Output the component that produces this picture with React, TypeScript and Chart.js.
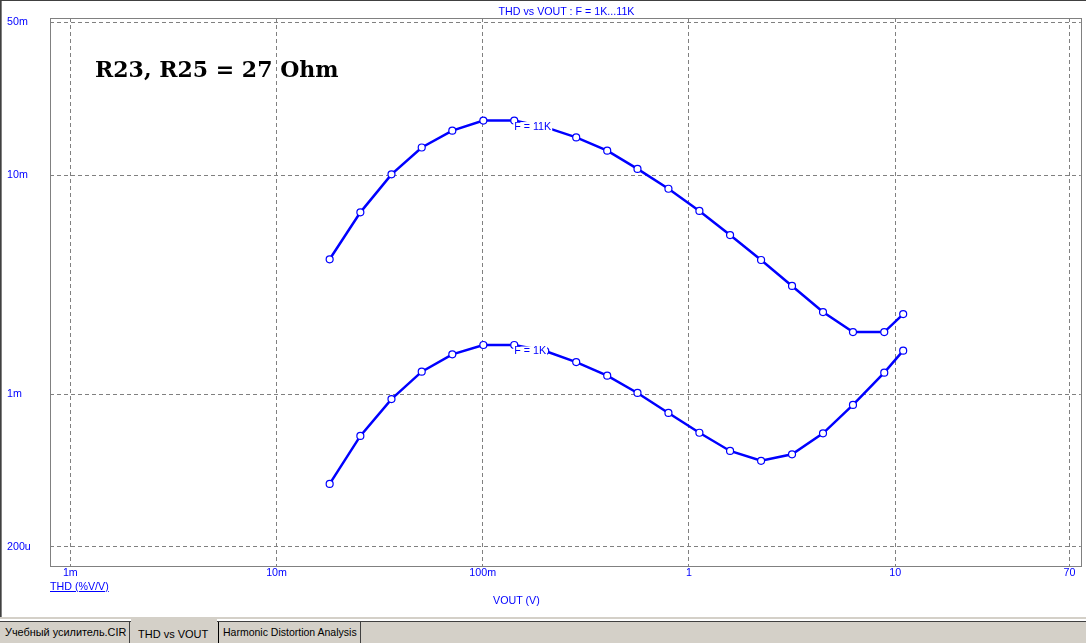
import React, { useEffect, useRef } from "react";
import { Chart, registerables } from "chart.js";

Chart.register(...registerables);

// VOUT (V) sweep points
const vout = [0.0181, 0.0255, 0.0361, 0.0506, 0.0712, 0.1007, 0.1422, 0.201, 0.284, 0.4015, 0.563, 0.7955, 1.124, 1.583, 2.238, 3.162, 4.469, 6.245, 8.856, 10.94];
// THD (%V/V) for F = 11K
const thd11k = [0.00413, 0.00677, 0.0101, 0.0134, 0.016, 0.0178, 0.0178, 0.0166, 0.0149, 0.01296, 0.0107, 0.00868, 0.00687, 0.00533, 0.0041, 0.00312, 0.00237, 0.00192, 0.00192, 0.00232];
// THD (%V/V) for F = 1K
const thd1k = [0.000388, 0.000643, 0.000948, 0.001265, 0.001519, 0.001675, 0.001675, 0.001573, 0.0014, 0.001213, 0.001011, 0.000819, 0.000665, 0.000549, 0.000495, 0.00053, 0.000661, 0.000891, 0.001252, 0.001578];

const seriesNames = ["F = 11K", "F = 1K"];
const xTickValues = [0.001, 0.01, 0.1, 1, 10, 70];
const xTickLabels = ["1m", "10m", "100m", "1", "10", "70"];
const yTickValues = [0.0002, 0.001, 0.01, 0.05];
const yTickLabels = ["200u", "1m", "10m", "50m"];
const labelPointIndex = 6;

const BLUE = "#0000ff";
const FONT = '"Liberation Sans", Arial, sans-serif';

export default function App() {
  const ref = useRef<HTMLCanvasElement>(null);

  useEffect(() => {
    const canvas = ref.current;
    if (!canvas) return;

    const curveLabels = {
      id: "curveLabels",
      afterDatasetsDraw(chart: any) {
        const c = chart.ctx;
        chart.data.datasets.forEach((ds: any, di: number) => {
          const pt = chart.getDatasetMeta(di).data[labelPointIndex];
          if (!pt) return;
          c.save();
          c.font = `10.7px ${FONT}`;
          const text = ds.label as string;
          const w = c.measureText(text).width;
          const x = pt.x;
          const y = pt.y + 6.5;
          c.fillStyle = "#ffffff";
          c.fillRect(x - 1, pt.y + 1.5, w + 2, 11);
          c.fillStyle = BLUE;
          c.textBaseline = "middle";
          c.textAlign = "left";
          c.fillText(text, x, y);
          c.restore();
        });
      },
    };

    const frame = {
      id: "frame",
      afterDraw(chart: any) {
        const { left, top, right, bottom } = chart.chartArea;
        const c = chart.ctx;
        c.save();
        c.strokeStyle = "#808080";
        c.lineWidth = 1;
        c.setLineDash([]);
        c.strokeRect(Math.round(left) + 0.5, Math.round(top) + 0.5, Math.round(right - left), Math.round(bottom - top));
        c.restore();
      },
    };

    const chart = new Chart(canvas, {
      type: "line",
      data: {
        datasets: [thd11k, thd1k].map((arr, i) => ({
          label: seriesNames[i],
          data: vout.map((x, j) => ({ x, y: arr[j] })),
          borderColor: BLUE,
          borderWidth: 2.5,
          pointRadius: 3.5,
          pointBackgroundColor: "#ffffff",
          pointBorderColor: BLUE,
          pointBorderWidth: 1.2,
          tension: 0,
          fill: false,
        })),
      },
      options: {
        responsive: false,
        animation: false,
        devicePixelRatio: 1,
        layout: { padding: { left: 7, top: 18, right: 3, bottom: 0 } },
        plugins: { legend: { display: false }, tooltip: { enabled: false }, title: { display: false } },
        scales: {
          x: {
            type: "logarithmic",
            bounds: "data",
            min: 0.000797,
            max: 79.5,
            afterBuildTicks: (s: any) => {
              s.ticks = xTickValues.map((v) => ({ value: v }));
            },
            afterFit: (s: any) => {
              s.height = 51;
            },
            ticks: {
              autoSkip: false,
              maxRotation: 0,
              padding: 1,
              color: BLUE,
              font: { family: FONT, size: 10.7 },
              callback: (v: any) => {
                const i = xTickValues.indexOf(Number(v));
                return i >= 0 ? xTickLabels[i] : "";
              },
            },
            grid: { color: "#808080", lineWidth: 1, drawTicks: false },
            border: { display: false, dash: [4, 3] },
          },
          y: {
            type: "logarithmic",
            bounds: "data",
            min: 0.0001635,
            max: 0.0524,
            afterBuildTicks: (s: any) => {
              s.ticks = yTickValues.map((v) => ({ value: v }));
            },
            afterFit: (s: any) => {
              s.width = 43;
            },
            ticks: {
              autoSkip: false,
              crossAlign: "far",
              padding: 0,
              color: BLUE,
              font: { family: FONT, size: 10.7 },
              callback: (v: any) => {
                const i = yTickValues.indexOf(Number(v));
                return i >= 0 ? yTickLabels[i] : "";
              },
            },
            grid: { color: "#808080", lineWidth: 1, drawTicks: false },
            border: { display: false, dash: [4, 3] },
          },
        },
      } as any,
      plugins: [curveLabels, frame],
    });
    return () => chart.destroy();
  }, []);

  const tabText: React.CSSProperties = {
    position: "absolute",
    fontFamily: FONT,
    fontSize: 10.5,
    lineHeight: "13px",
    color: "#000",
    whiteSpace: "nowrap",
  };

  return (
    <div style={{ position: "fixed", left: 0, top: 0, width: 1086, height: 643, background: "#fff", overflow: "hidden", fontFamily: FONT }}>
      <canvas ref={ref} width={1086} height={617} style={{ position: "absolute", left: 0, top: 0, width: 1086, height: 617 }} />
      {/* window frame */}
      <div style={{ position: "absolute", left: 0, top: 0, width: 1086, height: 1, background: "#404040" }} />
      <div style={{ position: "absolute", left: 0, top: 0, width: 1, height: 617, background: "#404040" }} />
      <div style={{ position: "absolute", left: 1, top: 1, width: 1, height: 616, background: "#808080" }} />
      {/* title */}
      <div style={{ position: "absolute", left: 416.5, top: 5, width: 300, textAlign: "center", fontSize: 10.7, lineHeight: "12px", color: BLUE, whiteSpace: "nowrap" }}>
        THD vs VOUT : F = 1K...11K
      </div>
      {/* annotation */}
      <div style={{ position: "absolute", left: 95, top: 58, fontFamily: '"DejaVu Serif", serif', fontWeight: "bold", fontSize: 22, lineHeight: "22px", color: "#000", whiteSpace: "nowrap" }}>
        R23, R25 = 27 Ohm
      </div>
      {/* axis titles */}
      <div style={{ position: "absolute", left: 50, top: 580, fontSize: 10.7, lineHeight: "13px", color: BLUE, textDecoration: "underline", whiteSpace: "nowrap" }}>
        THD (%V/V)
      </div>
      <div style={{ position: "absolute", left: 493, top: 593.5, fontSize: 10.7, lineHeight: "13px", color: BLUE, whiteSpace: "nowrap" }}>
        VOUT (V)
      </div>
      {/* tab bar */}
      <div style={{ position: "absolute", left: 0, top: 617, width: 1086, height: 2, background: "#d4d0c8" }} />
      <div style={{ position: "absolute", left: 0, top: 619, width: 1086, height: 2, background: "#ffffff" }} />
      <div style={{ position: "absolute", left: 0, top: 621, width: 1086, height: 1, background: "#404040" }} />
      <div style={{ position: "absolute", left: 0, top: 622, width: 1086, height: 21, background: "#d4d0c8" }} />
      {/* tab 1 */}
      <div style={{ position: "absolute", left: 0, top: 622, width: 129, height: 21, borderRight: "1px solid #404040", background: "#d4d0c8" }} />
      <div style={{ ...tabText, fontSize: 10.9, left: 5, top: 626 }}>Учебный усилитель.CIR</div>
      {/* tab 2 (selected) */}
      <div style={{ position: "absolute", left: 131, top: 619, width: 86, height: 24, background: "#d4d0c8" }} />
      <div style={{ ...tabText, fontSize: 11, left: 138, top: 628 }}>THD vs VOUT</div>
      {/* tab 3 */}
      <div style={{ position: "absolute", left: 218, top: 622, width: 141, height: 21, borderLeft: "1px solid #000", borderRight: "1px solid #404040", background: "#d4d0c8" }} />
      <div style={{ ...tabText, left: 223, top: 626 }}>Harmonic Distortion Analysis</div>
    </div>
  );
}
